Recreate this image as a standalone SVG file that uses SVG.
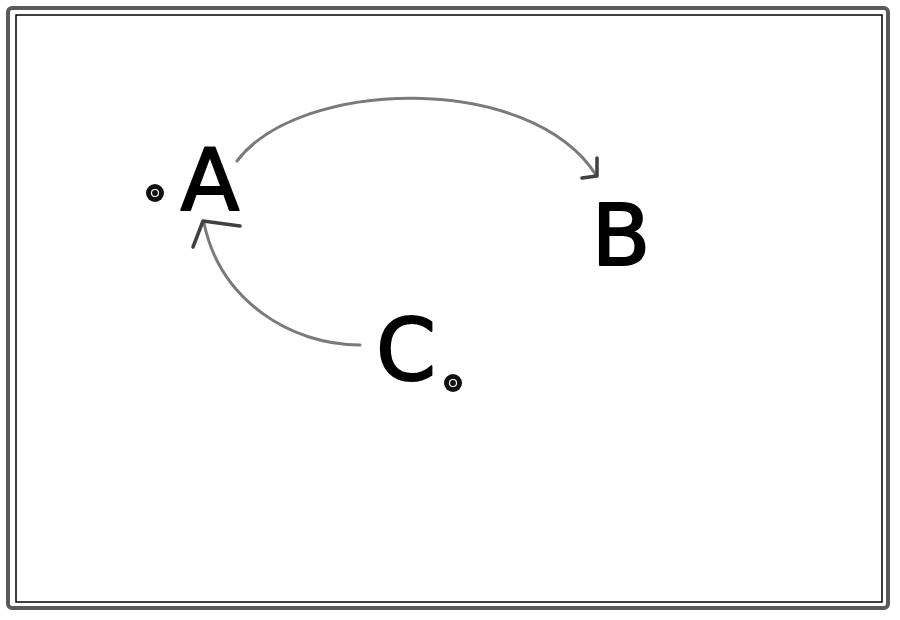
<svg xmlns="http://www.w3.org/2000/svg" width="900" height="620" viewBox="0 0 900 620">
<style>
.frame{fill:none;stroke:#5a5a5a;stroke-width:4}
.inner{fill:none;stroke:#000;stroke-width:1.5}
.lbl{font-family:"DejaVu Sans",sans-serif;font-size:86px;fill:#000;stroke:#000;stroke-width:2;stroke-linejoin:round;text-anchor:middle}
.edge{fill:none;stroke:#7a7a7a;stroke-width:3;stroke-linecap:round}
.head{fill:none;stroke:#404040;stroke-width:3.5;stroke-linecap:round;stroke-linejoin:round}
.mark{fill:#111}
.markin{fill:none;stroke:#fff;stroke-width:1.2}
</style>
<rect width="900" height="620" fill="#fff"/>
<rect class="frame" x="8" y="8" width="880" height="600" rx="4"/>
<rect class="inner" x="16" y="15" width="866" height="587"/>
<g id="connectors">
<path class="edge" d="M237,161 C300,78 530,72 596,175"/>
<path class="head" d="M597,158 L597,176 L582,178"/>
<path class="edge" d="M360,345 C290,345 220,300 204,223"/>
<path class="head" d="M240,226 L203,221 L193,247"/>
</g>
<g id="node-A">
<text class="lbl" x="210" y="210">A</text>
<circle class="mark" cx="155" cy="193" r="9"/>
<circle class="markin" cx="155" cy="193" r="3.5"/>
</g>
<g id="node-B">
<text class="lbl" x="621" y="265">B</text>
</g>
<g id="node-C">
<text class="lbl" x="406" y="380">C</text>
<circle class="mark" cx="453" cy="383" r="9"/>
<circle class="markin" cx="453" cy="383" r="3.5"/>
</g>
</svg>
